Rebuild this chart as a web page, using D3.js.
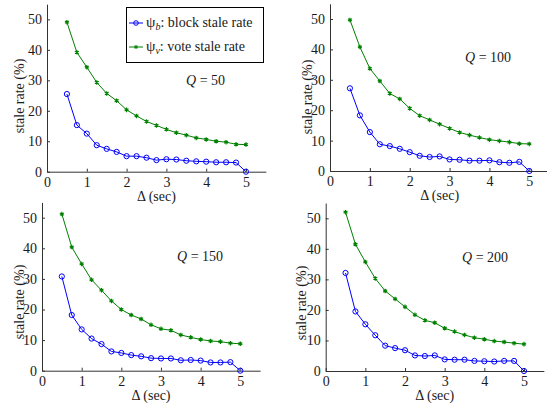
<!DOCTYPE html>
<html>
<head>
<meta charset="utf-8">
<script src="https://cdn.jsdelivr.net/npm/d3@7"></script>
<style>
  body { margin: 0; background: #fff; }
  .domain, .tick line { stroke: #333; }
</style>
</head>
<body>
<svg width="547" height="403"></svg>
<script>
// Delta (sec)
var delta = [0.5, 0.75, 1, 1.25, 1.5, 1.75, 2, 2.25, 2.5, 2.75, 3, 3.25, 3.5, 3.75, 4, 4.25, 4.5, 4.75, 5]

var block50 = [25.5, 15.3, 12.5, 8.7, 7.5, 6.5, 5.1, 5.1, 4.6, 3.8, 4.1, 4.0, 3.6, 3.4, 3.3, 3.1, 3.1, 3.0, 0]
var vote50 = [49.1, 39.2, 34.3, 29.3, 25.7, 23.3, 20.3, 18.3, 16.5, 15.2, 13.9, 12.8, 12.0, 11.1, 10.6, 10.0, 9.7, 9.0, 8.9]

var block100 = [27.2, 18.3, 12.8, 8.8, 8.2, 7.3, 6.2, 5.0, 4.6, 4.8, 3.8, 3.7, 3.4, 3.4, 3.5, 2.9, 2.7, 3.0, 0]
var vote100 = [49.7, 40.8, 33.7, 29.6, 25.5, 23.7, 20.6, 18.2, 16.8, 15.4, 14.0, 12.7, 11.8, 11.0, 10.3, 9.9, 9.5, 9.0, 8.9]

var block150 = [30.8, 18.2, 13.5, 10.5, 8.7, 6.3, 5.8, 5.1, 4.7, 4.1, 4.0, 4.0, 3.4, 3.5, 3.3, 2.7, 2.7, 2.8, 0]
var vote150 = [51.2, 40.4, 34.9, 29.7, 26.3, 22.8, 20.0, 18.2, 16.9, 15.0, 13.7, 13.2, 11.7, 10.9, 10.2, 9.7, 9.5, 9.0, 8.8]

var block200 = [32.1, 19.5, 15.3, 11.7, 8.3, 7.5, 6.8, 5.1, 4.9, 5.1, 3.8, 3.7, 3.7, 3.3, 3.2, 3.1, 3.3, 3.3, 0]
var vote200 = [52.0, 41.5, 35.7, 30.3, 26.2, 23.6, 21.0, 18.4, 16.6, 15.8, 14.0, 12.9, 11.8, 10.9, 10.4, 9.8, 9.5, 9.1, 8.8]

var xTicks = [0, 1, 2, 3, 4, 5]
var yTicks = [0, 10, 20, 30, 40, 50]
var qLabels = ["50", "100", "150", "200"]

var blue = "#0000ff"
var green = "#008000"
var serif = "'Liberation Serif', 'Times New Roman', serif"

// panel placement: left edge of x axis, y of zero line, x unit, y unit
var panels = [
  { left: 47, bottom: 171.7, xu: 39.8, yu: 3.046, block: block50, vote: vote50, q: qLabels[0], qx: 186, qy: 85, labX: 19, labY: 96 },
  { left: 330, bottom: 171, xu: 39.86, yu: 3.04, block: block100, vote: vote100, q: qLabels[1], qx: 465, qy: 62, labX: 307, labY: 97 },
  { left: 42, bottom: 370.7, xu: 39.66, yu: 3.06, block: block150, vote: vote150, q: qLabels[2], qx: 177, qy: 261, labX: 19, labY: 302 },
  { left: 325.7, bottom: 371, xu: 39.66, yu: 3.054, block: block200, vote: vote200, q: qLabels[3], qx: 462, qy: 262, labX: 301, labY: 303 }
]

var svg = d3.select("svg")

panels.forEach(function (p, i) {
  var x = d3.scaleLinear().domain([0, 5.5]).range([p.left, p.left + 5.5 * p.xu])
  var y = d3.scaleLinear().domain([0, 55]).range([p.bottom, p.bottom - 55 * p.yu])

  var g = svg.append("g").attr("class", "panel")

  // axes with inward ticks
  g.append("g")
    .attr("transform", "translate(0," + p.bottom + ")")
    .call(d3.axisBottom(x).tickValues(xTicks).tickSizeInner(-3).tickSizeOuter(0).tickPadding(5).tickFormat(d3.format("d")))
  g.append("g")
    .attr("transform", "translate(" + p.left + ",0)")
    .call(d3.axisLeft(y).tickValues(yTicks).tickSizeInner(-3).tickSizeOuter(0).tickPadding(5).tickFormat(d3.format("d")))

  // axis titles
  g.append("text")
    .attr("x", x(2.75))
    .attr("y", p.bottom + 29)
    .attr("text-anchor", "middle")
    .text("\u0394 (sec)")
  g.append("text")
    .attr("transform", "translate(" + p.labX + "," + p.labY + ") rotate(-90)")
    .attr("text-anchor", "middle")
    .attr("dy", "0.35em")
    .text("stale rate (%)")

  // Q label
  var qt = g.append("text").attr("x", p.qx).attr("y", p.qy)
  qt.append("tspan").attr("font-style", "italic").text("Q")
  qt.append("tspan").text(" = " + p.q)

  g.selectAll("text")
    .style("font-family", serif)
    .style("font-size", "14px")
    .style("fill", "#1a1a1a")

  var line = d3.line().x(function (d) { return x(d[0]) }).y(function (d) { return y(d[1]) })

  var voteData = d3.zip(delta, p.vote)
  var blockData = d3.zip(delta, p.block)

  g.append("path").datum(voteData)
    .attr("d", line).attr("fill", "none").attr("stroke", green).attr("stroke-width", 1)
  g.selectAll(".vm").data(voteData).enter().append("path")
    .attr("class", "vm")
    .attr("transform", function (d) { return "translate(" + x(d[0]) + "," + y(d[1]) + ")" })
    .attr("d", d3.symbol().type(d3.symbolAsterisk).size(14))
    .attr("stroke", green).attr("fill", "none").attr("stroke-width", 1.2)

  g.append("path").datum(blockData)
    .attr("d", line).attr("fill", "none").attr("stroke", blue).attr("stroke-width", 1)
  g.selectAll(".bm").data(blockData).enter().append("circle")
    .attr("class", "bm")
    .attr("cx", function (d) { return x(d[0]) })
    .attr("cy", function (d) { return y(d[1]) })
    .attr("r", 2.6)
    .attr("fill", "none").attr("stroke", blue).attr("stroke-width", 1)
})

// legend on first panel
var leg = svg.append("g")
leg.append("rect").attr("x", 126.5).attr("y", 7.5).attr("width", 137).attr("height", 55)
  .attr("fill", "#fff").attr("stroke", "#000").attr("stroke-width", 1)

var legendItems = [
  { sub: "b", label: ": block stale rate", color: blue, y: 23, mark: "circle" },
  { sub: "v", label: ": vote stale rate", color: green, y: 47, mark: "star" }
]
legendItems.forEach(function (it) {
  leg.append("line").attr("x1", 129).attr("x2", 143).attr("y1", it.y).attr("y2", it.y)
    .attr("stroke", it.color).attr("stroke-width", 1)
  if (it.mark == "circle") {
    leg.append("circle").attr("cx", 136).attr("cy", it.y).attr("r", 2.3)
      .attr("fill", "none").attr("stroke", it.color)
  } else {
    leg.append("path").attr("transform", "translate(136," + it.y + ")")
      .attr("d", d3.symbol().type(d3.symbolAsterisk).size(12))
      .attr("stroke", it.color).attr("fill", "none")
  }
  var t = leg.append("text").attr("x", 146).attr("y", it.y + 4)
    .style("font-family", serif).style("font-size", "14px").style("fill", "#1a1a1a")
  t.append("tspan").style("font-size", "15px").text("\u03c8")
  t.append("tspan").attr("font-style", "italic").style("font-size", "10px").attr("dy", 3).text(it.sub)
  t.append("tspan").attr("dy", -3).text(it.label)
})
</script>
</body>
</html>
